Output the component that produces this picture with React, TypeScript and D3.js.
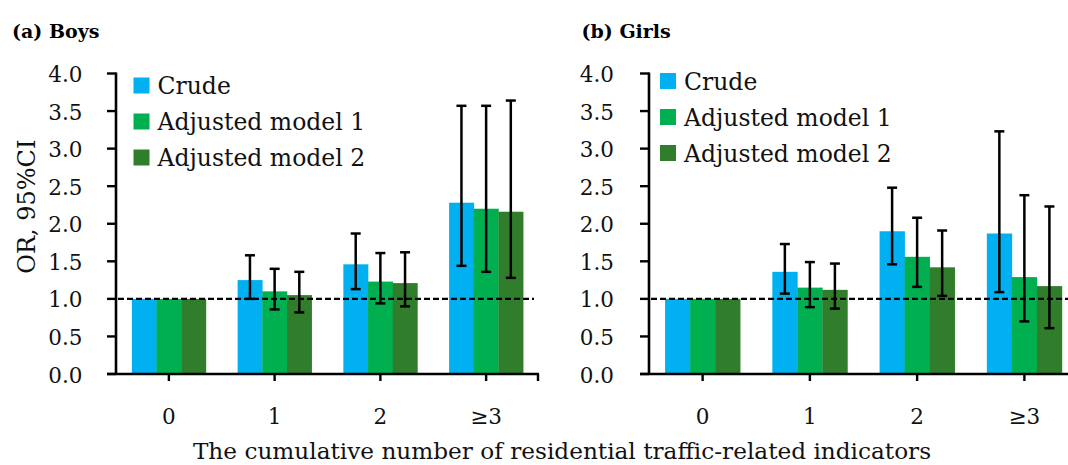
import React from "react";
import * as d3 from "d3";

const categories = ["0", "1", "2", "≥3"];
const seriesNames = ["Crude", "Adjusted model 1", "Adjusted model 2"];
const seriesColors = ["#00B0F0", "#00B050", "#307E2B"];
const yTicks = [0, 0.5, 1, 1.5, 2, 2.5, 3, 3.5, 4];

// Boys
const boysCrude = [1.0, 1.25, 1.46, 2.28];
const boysCrudeLo = [null, 1.0, 1.13, 1.44];
const boysCrudeHi = [null, 1.58, 1.87, 3.57];
const boysM1 = [1.0, 1.1, 1.23, 2.2];
const boysM1Lo = [null, 0.86, 0.94, 1.36];
const boysM1Hi = [null, 1.4, 1.61, 3.57];
const boysM2 = [1.0, 1.05, 1.21, 2.16];
const boysM2Lo = [null, 0.82, 0.9, 1.28];
const boysM2Hi = [null, 1.36, 1.62, 3.64];

// Girls
const girlsCrude = [1.0, 1.36, 1.9, 1.87];
const girlsCrudeLo = [null, 1.07, 1.46, 1.09];
const girlsCrudeHi = [null, 1.73, 2.48, 3.23];
const girlsM1 = [1.0, 1.15, 1.56, 1.29];
const girlsM1Lo = [null, 0.89, 1.16, 0.7];
const girlsM1Hi = [null, 1.49, 2.08, 2.38];
const girlsM2 = [1.0, 1.12, 1.42, 1.17];
const girlsM2Lo = [null, 0.87, 1.04, 0.61];
const girlsM2Hi = [null, 1.47, 1.91, 2.23];

const FONT = "'DejaVu Serif', serif";

type Panel = {
  title: string;
  titleX: number;
  x0: number;
  x1: number;
  labelRight: number;
  legendX: number;
  legendY: number;
  vals: number[][];
  lo: (number | null)[][];
  hi: (number | null)[][];
};

const panels: Panel[] = [
  {
    title: "(a) Boys",
    titleX: 12,
    x0: 116,
    x1: 539,
    labelRight: 82.5,
    legendX: 133.5,
    legendY: 77.5,
    vals: [boysCrude, boysM1, boysM2],
    lo: [boysCrudeLo, boysM1Lo, boysM2Lo],
    hi: [boysCrudeHi, boysM1Hi, boysM2Hi],
  },
  {
    title: "(b) Girls",
    titleX: 581.5,
    x0: 649,
    x1: 1078,
    labelRight: 614,
    legendX: 660,
    legendY: 73,
    vals: [girlsCrude, girlsM1, girlsM2],
    lo: [girlsCrudeLo, girlsM1Lo, girlsM2Lo],
    hi: [girlsCrudeHi, girlsM1Hi, girlsM2Hi],
  },
];

const y = d3.scaleLinear().domain([0, 4]).range([374, 73.5]);

function PanelView({ p }: { p: Panel }) {
  const x = d3
    .scaleBand<string>()
    .domain(categories)
    .range([p.x0, p.x1])
    .paddingInner(0.3)
    .paddingOuter(0.15);
  const xs = d3
    .scaleBand<number>()
    .domain([0, 1, 2])
    .range([0, x.bandwidth()]);
  const bw = xs.bandwidth();
  const cap = 10;
  return (
    <g>
      <text x={p.titleX} y={38.3} fontFamily={FONT} fontWeight="bold" fontSize={19}>
        {p.title}
      </text>
      {/* bars */}
      {categories.map((c, ci) =>
        p.vals.map((sv, si) => (
          <rect
            key={`b${ci}-${si}`}
            x={(x(c) as number) + (xs(si) as number)}
            y={y(sv[ci])}
            width={bw + 0.3}
            height={y(0) - y(sv[ci])}
            fill={seriesColors[si]}
          />
        ))
      )}
      {/* reference dashed line */}
      <line
        x1={p.x0 + 2}
        x2={p.x1 - 5}
        y1={y(1)}
        y2={y(1)}
        stroke="#000"
        strokeWidth={2.4}
        strokeDasharray="6,3"
      />
      {/* error bars */}
      {categories.map((c, ci) =>
        p.vals.map((sv, si) => {
          const l = p.lo[si][ci];
          const h = p.hi[si][ci];
          if (l == null || h == null) return null;
          const cx = (x(c) as number) + (xs(si) as number) + bw / 2;
          return (
            <g key={`e${ci}-${si}`} stroke="#000" strokeWidth={2.5}>
              <line x1={cx} x2={cx} y1={y(l)} y2={y(h)} />
              <line x1={cx - cap / 2} x2={cx + cap / 2} y1={y(l)} y2={y(l)} />
              <line x1={cx - cap / 2} x2={cx + cap / 2} y1={y(h)} y2={y(h)} />
            </g>
          );
        })
      )}
      {/* y axis */}
      <line x1={p.x0} x2={p.x0} y1={y(4) - 1} y2={y(0) + 1} stroke="#000" strokeWidth={2.6} />
      {yTicks.map((t) => (
        <g key={`yt${t}`}>
          <line x1={p.x0 - 9} x2={p.x0} y1={y(t)} y2={y(t)} stroke="#000" strokeWidth={2.4} />
          <text
            x={p.labelRight}
            y={y(t) + 1}
            textAnchor="end"
            dominantBaseline="central"
            fontFamily={FONT}
            fontSize={21.5}
            fill="#111"
          >
            {t.toFixed(1)}
          </text>
        </g>
      ))}
      {/* x axis */}
      <line x1={p.x0 - 9} x2={p.x1} y1={y(0)} y2={y(0)} stroke="#000" strokeWidth={2.6} />
      {categories.map((c) => {
        const cx = (x(c) as number) + x.bandwidth() / 2;
        return (
          <g key={`xt${c}`}>
            <line x1={cx} x2={cx} y1={y(0)} y2={y(0) + 7} stroke="#000" strokeWidth={2.4} />
            <text
              x={cx}
              y={423.5}
              textAnchor="middle"
              fontFamily={FONT}
              fontSize={21.5}
              fill="#111"
            >
              {c}
            </text>
          </g>
        );
      })}
      <line x1={p.x1 - 1} x2={p.x1 - 1} y1={y(0)} y2={y(0) + 7} stroke="#000" strokeWidth={2.4} />
      {/* legend */}
      {seriesNames.map((s, i) => (
        <g key={`lg${i}`}>
          <rect x={p.legendX} y={p.legendY + i * 36} width={16} height={16} fill={seriesColors[i]} />
          <text
            x={p.legendX + 24}
            y={p.legendY + i * 36 + 16.5}
            fontFamily={FONT}
            fontSize={23.5}
            fill="#111"
          >
            {s}
          </text>
        </g>
      ))}
    </g>
  );
}

export default function App() {
  return (
    <svg
      width={1068}
      height={465}
      style={{ position: "absolute", left: 0, top: 0, background: "#fff" }}
    >
      <rect width={1068} height={465} fill="#fff" />
      {panels.map((p, i) => (
        <PanelView key={i} p={p} />
      ))}
      <text
        transform="translate(35,206.7) rotate(-90)"
        textAnchor="middle"
        fontFamily={FONT}
        fontSize={24}
        fill="#111"
      >
        OR, 95%CI
      </text>
      <text x={562} y={459} textAnchor="middle" fontFamily={FONT} fontSize={23.2} fill="#111">
        The cumulative number of residential traffic-related indicators
      </text>
    </svg>
  );
}
